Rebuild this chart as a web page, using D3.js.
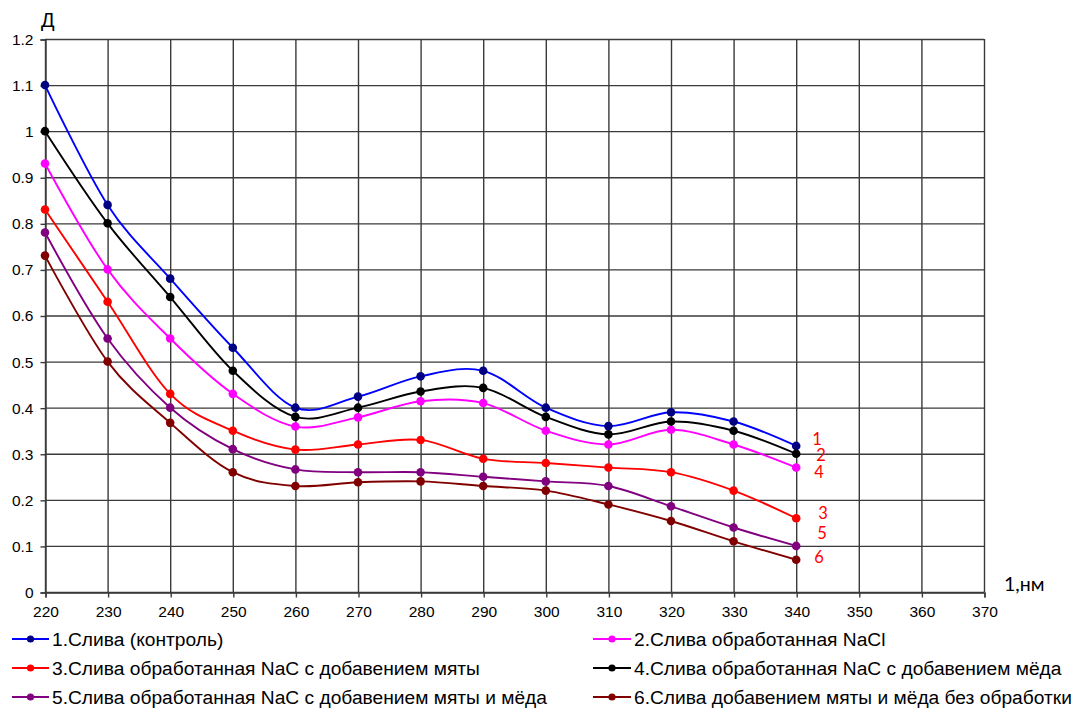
<!DOCTYPE html>
<html><head><meta charset="utf-8">
<script src="https://cdn.jsdelivr.net/npm/d3@7"></script>
<style>body{margin:0;background:#fff;} svg{display:block;}</style>
</head><body>
<svg id="c" width="1083" height="708"></svg>
<script>
const wavelengths = [220,230,240,250,260,270,280,290,300,310,320,330,340];
const s1 = [1.10,0.84,0.68,0.53,0.40,0.424,0.468,0.48,0.40,0.36,0.39,0.37,0.317];
const s2 = [0.93,0.70,0.55,0.43,0.359,0.379,0.414,0.41,0.35,0.32,0.352,0.32,0.27];
const s3 = [0.83,0.63,0.43,0.35,0.309,0.32,0.33,0.289,0.28,0.27,0.26,0.22,0.16];
const s4 = [1.00,0.80,0.64,0.48,0.38,0.40,0.435,0.443,0.38,0.342,0.37,0.35,0.30];
const s5 = [0.78,0.55,0.40,0.31,0.266,0.26,0.26,0.25,0.24,0.23,0.186,0.14,0.10];
const s6 = [0.73,0.50,0.367,0.26,0.23,0.238,0.24,0.23,0.22,0.19,0.154,0.11,0.07];
const seriesNames = [
  "1.Слива (контроль)",
  "2.Слива обработанная NaCl",
  "3.Слива обработанная NaC с добавением мяты",
  "4.Слива обработанная NaC с добавением мёда",
  "5.Слива обработанная NaC с добавением мяты и мёда",
  "6.Слива добавением мяты и мёда без обработки"
];
const xTicks = [220,230,240,250,260,270,280,290,300,310,320,330,340,350,360,370];
const yTicks = [0,0.1,0.2,0.3,0.4,0.5,0.6,0.7,0.8,0.9,1,1.1,1.2];
const endLabels = ["1","2","4","3","5","6"];

const lineColors = ["#0000ff","#ff00ff","#ff0000","#000000","#800080","#800000"];
const markColors = ["#000080","#ff00ff","#ff0000","#000000","#800080","#800000"];
const seriesData = [s1,s2,s3,s4,s5,s6];

const svg = d3.select("#c");
const L=45, R=984, T=39, B=592;
const x = d3.scaleLinear().domain([220,370]).range([L,R]);
const y = d3.scaleLinear().domain([0,1.2]).range([B,T]);

// grid
const g = svg.append("g");
g.selectAll("line.v").data(xTicks).enter().append("line")
 .attr("x1",d=>x(d)+0.5).attr("x2",d=>x(d)+0.5).attr("y1",T).attr("y2",B)
 .attr("stroke","#3a3a3a").attr("stroke-width",1.4);
g.selectAll("line.h").data(yTicks).enter().append("line")
 .attr("x1",L).attr("x2",R).attr("y1",d=>y(d)+0.5).attr("y2",d=>y(d)+0.5)
 .attr("stroke","#3a3a3a").attr("stroke-width",1.4);

// axes
const xAxis = d3.axisBottom(x).tickValues(xTicks).tickSize(5).tickFormat(d=>d);
const yAxis = d3.axisLeft(y).tickValues(yTicks).tickSize(5).tickFormat(d=>String(d));
const gx = svg.append("g").attr("transform",`translate(0.5,${B+0.5})`).call(xAxis);
const gy = svg.append("g").attr("transform",`translate(${L+0.5},0.5)`).call(yAxis);
[gx,gy].forEach(a=>{
  a.select(".domain").attr("stroke","#3a3a3a").attr("stroke-width",1.4);
  a.selectAll(".tick line").attr("stroke","#3a3a3a").attr("stroke-width",1.4);
  a.selectAll("text").attr("font-family","Liberation Sans, Arial, sans-serif").attr("font-size",15.5).attr("fill","#000");
});
gx.selectAll("text").attr("dy","0.71em").attr("y",13);
gy.selectAll("text").attr("x",-12);

// lines
const line = d3.line().x((d,i)=>x(wavelengths[i])).y(d=>y(d)).curve(d3.curveCardinal.tension(0));
seriesData.forEach((s,k)=>{
  svg.append("path").attr("d",line(s)).attr("fill","none")
    .attr("stroke",lineColors[k]).attr("stroke-width",1.9);
});
seriesData.forEach((s,k)=>{
  svg.append("g").selectAll("circle").data(s).enter().append("circle")
   .attr("cx",(d,i)=>x(wavelengths[i])).attr("cy",d=>y(d)).attr("r",4.3)
   .attr("fill",markColors[k]);
});

// axis titles
svg.append("text").attr("x",41).attr("y",27).text("Д")
  .attr("font-family","Liberation Sans, Arial, sans-serif").attr("font-size",20);
svg.append("text").attr("x",1004).attr("y",591).text("1,нм")
  .attr("font-family","Lato, sans-serif").attr("font-size",19.5);

// end labels
const endPos = [[817,439.5],[821,455.5],[819,472],[823,513],[822,533],[819,557]];
endLabels.forEach((t,i)=>{
  svg.append("text").attr("x",endPos[i][0]).attr("y",endPos[i][1]).attr("dy","0.35em")
    .attr("text-anchor","middle").text(t).attr("fill","#ff0000")
    .attr("font-family","Lato, sans-serif").attr("font-size",16.5);
});

// legend
const legPos = [[12,639],[593,639],[12,668],[593,668],[12,697],[593,697]];
const legLen = [37,38,37,38,37,38];
seriesNames.forEach((n,k)=>{
  const [lx,ly]=legPos[k];
  const gg = svg.append("g");
  gg.append("line").attr("x1",lx).attr("x2",lx+legLen[k]).attr("y1",ly).attr("y2",ly)
    .attr("stroke",lineColors[k]).attr("stroke-width",1.9);
  gg.append("circle").attr("cx",lx+legLen[k]/2).attr("cy",ly).attr("r",3.6).attr("fill",markColors[k]);
  gg.append("text").attr("x",lx+legLen[k]+3).attr("y",ly).attr("dy","0.35em").text(n)
    .attr("font-family","Liberation Sans, Arial, sans-serif").attr("font-size",19.2);
});
</script>
</body></html>
